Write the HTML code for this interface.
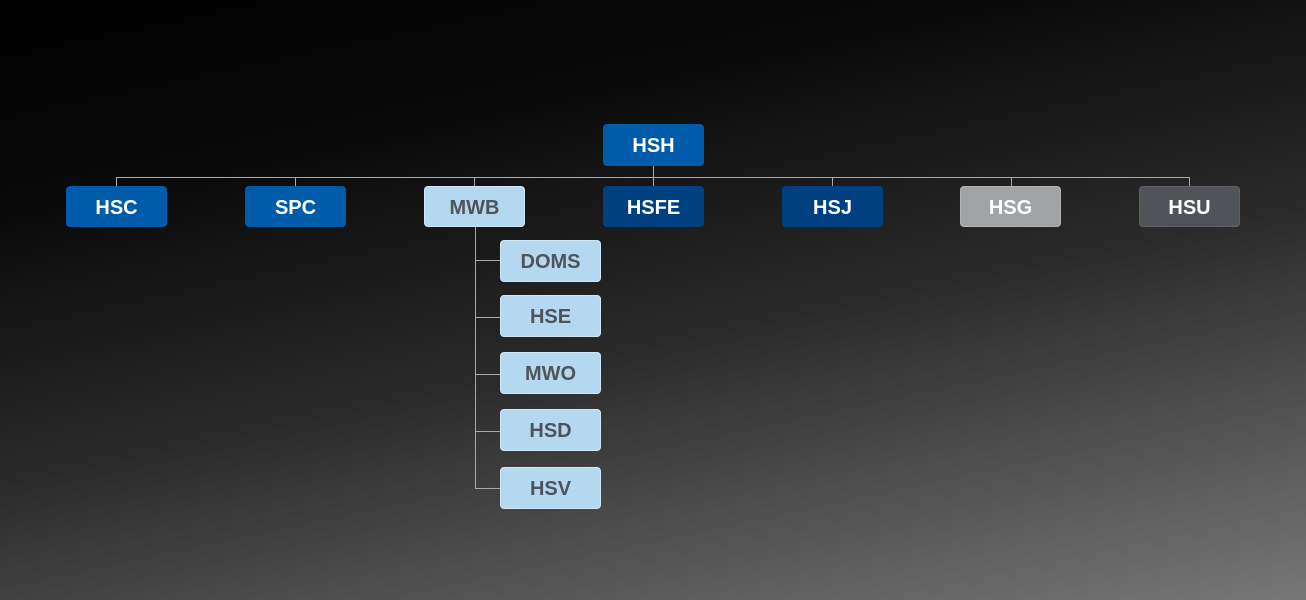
<!DOCTYPE html>
<html><head><meta charset="utf-8"><style>
html,body{margin:0;padding:0}
body{width:1306px;height:600px;position:relative;overflow:hidden;
background:linear-gradient(168deg,#000 0%,#0a0a0a 25%,#2a2a2a 55%,#555 80%,#777 100%);
font-family:"Liberation Sans",sans-serif}
.b{position:absolute;width:101px;height:41px;border-radius:4px;box-sizing:border-box;padding-top:3px;
display:flex;align-items:center;justify-content:center;font-weight:bold;font-size:20px;color:#fff}
.l{position:absolute;background:#aaa}
.blue{background:#005baa}.navy{background:#004080}.lt{background:#b4d8f0;color:#4f545a;border:1px solid #cfe6f6}
.g{background:#a0a3a6;border:1px solid #b0b3b6}.dg{background:#505459;border:1px solid #5e6268}
</style></head><body>
<div class="l" style="left:116px;top:177px;width:1074px;height:1px"></div>
<div class="l" style="left:653px;top:166px;width:1px;height:20px"></div>
<div class="l" style="left:116px;top:177px;width:1px;height:9px"></div>
<div class="l" style="left:295px;top:177px;width:1px;height:9px"></div>
<div class="l" style="left:474px;top:177px;width:1px;height:9px"></div>
<div class="l" style="left:832px;top:177px;width:1px;height:9px"></div>
<div class="l" style="left:1011px;top:177px;width:1px;height:9px"></div>
<div class="l" style="left:1189px;top:177px;width:1px;height:9px"></div>
<div class="l" style="left:475px;top:227px;width:1px;height:262px"></div>
<div class="l" style="left:475px;top:260px;width:26px;height:1px"></div>
<div class="l" style="left:475px;top:317px;width:26px;height:1px"></div>
<div class="l" style="left:475px;top:374px;width:26px;height:1px"></div>
<div class="l" style="left:475px;top:431px;width:26px;height:1px"></div>
<div class="l" style="left:475px;top:488px;width:26px;height:1px"></div>

<div class="b blue" style="left:603px;top:124px;height:42px">HSH</div>
<div class="b blue" style="left:66px;top:186px">HSC</div>
<div class="b blue" style="left:245px;top:186px">SPC</div>
<div class="b lt" style="left:424px;top:186px">MWB</div>
<div class="b navy" style="left:603px;top:186px">HSFE</div>
<div class="b navy" style="left:782px;top:186px">HSJ</div>
<div class="b g" style="left:960px;top:186px">HSG</div>
<div class="b dg" style="left:1139px;top:186px">HSU</div>

<div class="b lt" style="left:500px;top:240px;height:42px">DOMS</div>
<div class="b lt" style="left:500px;top:295px;height:42px">HSE</div>
<div class="b lt" style="left:500px;top:352px;height:42px">MWO</div>
<div class="b lt" style="left:500px;top:409px;height:42px">HSD</div>
<div class="b lt" style="left:500px;top:467px;height:42px">HSV</div>
</body></html>
